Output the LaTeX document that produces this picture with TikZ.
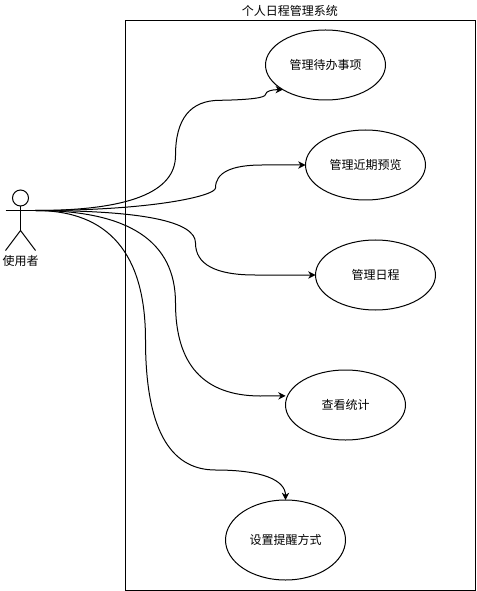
\documentclass[tikz,border=0pt]{standalone}
\usepackage{fontspec}
\setmainfont{Noto Sans CJK SC}
\usetikzlibrary{positioning,shapes.geometric,arrows.meta}

\begin{document}
\begin{tikzpicture}[
    x=0.75pt, y=-0.75pt,
    every node/.style={align=center, font=\fontsize{9pt}{11pt}\selectfont, line width=0.75pt, outer sep=0pt, inner sep=0pt},
    usecase/.style={ellipse, draw=black, fill=white, minimum width=90pt, minimum height=52.5pt},
    bigcase/.style={usecase, minimum height=60pt},
    frame/.style={rectangle, draw=black, minimum width=262.5pt, minimum height=427.5pt},
    head/.style={circle, draw=black, minimum size=12pt},
    limb/.style={line width=0.75pt, draw=black},
    arrow/.style={-{Stealth[length=5.5pt,width=5.5pt]}, line width=0.75pt, draw=black}
]
    \useasboundingbox (0,0) rectangle (476,591);

    % System frame
    \node[frame] (system) at (300.5,305.5) {};
    \node[above=2.75pt of system.north, xshift=-7.9pt] (title) {个人日程管理系统};

    % Actor
    \node[head] (actor) at (20.5,198) {};
    \coordinate (armleft) at (5.5,210.5);
    \coordinate (armright) at (35.5,210.5);
    \coordinate (hip) at (20.5,230.5);
    \coordinate (footleft) at (5.5,250.5);
    \coordinate (footright) at (35.5,250.5);
    \node[below=18.5pt of hip] (actorlabel) {使用者};
    \draw[limb] (actor) -- (hip);
    \draw[limb] (armleft) -- (armright);
    \draw[limb] (footleft) -- (hip) -- (footright);

    % Use cases
    \node[usecase] (todo) at (325.5,65) {管理待办事项};
    \node[usecase, below=22.5pt of todo, xshift=30pt] (preview) {管理近期预览};
    \node[usecase, below=30pt of preview, xshift=7.5pt] (schedule) {管理日程};
    \node[usecase, below=45pt of schedule, xshift=-22.5pt] (stats) {查看统计};
    \node[bigcase, below=45pt of stats, xshift=-45pt] (remind) {设置提醒方式};

    % Draw Arrows
    \draw[arrow] (armright) .. controls (128.8,210.5) and (175.5,192.2) .. (175.5,155.5)
        .. controls (175.5,118.8) and (190.3,100.3) .. (220,100.3)
        .. controls (250,99.8) and (265.2,97.8) .. (265.5,94.5)
        .. controls (265.8,91.2) and (271.7,89.6) .. (todo.210);
    \draw[arrow] (armright) .. controls (155.5,210.5) and (215.5,195.5) .. (215.5,188)
        .. controls (215.5,172.7) and (231,165) .. (262,165) -- (preview.west);
    \draw[arrow] (armright) .. controls (142.2,210.5) and (195.5,221.3) .. (195.5,243)
        .. controls (195.5,264.3) and (215.3,275) .. (255,275) -- (schedule.west);
    \draw[arrow, shorten >=1.5pt] (armright) .. controls (128.8,210.5) and (175.5,241.3) .. (175.5,303)
        .. controls (175.5,364.7) and (203.7,395.7) .. (260,396) -- (stats.171);
    \draw[arrow] (armright) .. controls (108.8,210.5) and (145.5,253.7) .. (145.5,340)
        .. controls (145.5,426.7) and (168.8,470) .. (215.5,470)
        .. controls (262.2,470) and (285.5,480) .. (remind.north);

\end{tikzpicture}
\end{document}
